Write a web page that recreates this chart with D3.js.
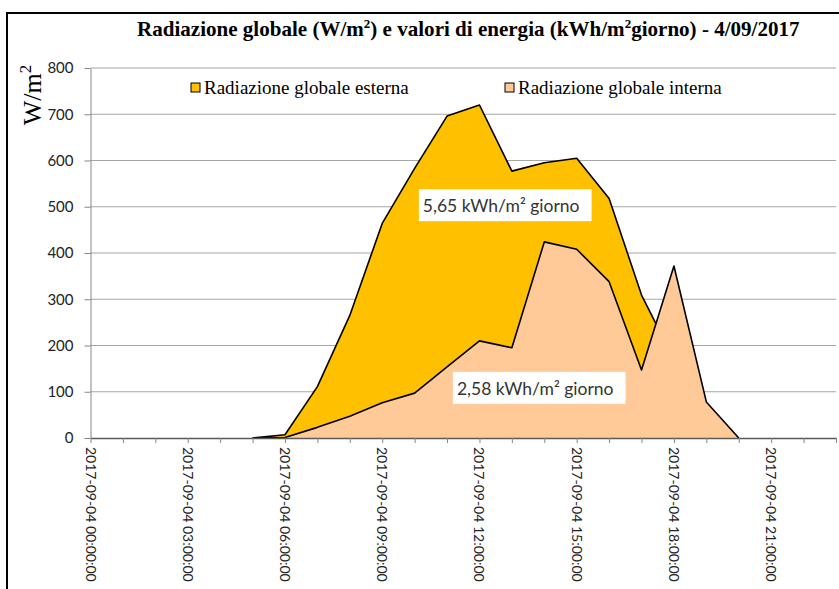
<!DOCTYPE html>
<html>
<head>
<meta charset="utf-8">
<script src="https://cdn.jsdelivr.net/npm/d3@7"></script>
<style>
  body { margin: 0; background: #fff; }
  svg { display: block; }
  .axis-title, .legend text, .chart-title { font-family: "Liberation Serif", "DejaVu Serif", serif; fill: #000; }
  .tick-lbl { font-family: Lato, "Open Sans", sans-serif; fill: #222; }
  .note { font-family: Lato, "Open Sans", sans-serif; fill: #333; }
</style>
</head>
<body>
<svg id="chart"></svg>
<script>
// hourly categories for 4/09/2017
const hours = ['00','01','02','03','04','05','06','07','08','09','10','11',
               '12','13','14','15','16','17','18','19','20','21','22','23'];
const esterna = [0, 0, 0, 0, 0, 0, 7, 111, 265, 464, 583, 696,
                 720, 577, 595, 605, 518, 309, 170, 40, 0, 0, 0, 0];
const interna = [0, 0, 0, 0, 0, 0, 1, 23, 47, 76, 97, 154,
                 210, 195, 424, 408, 338, 147, 372, 78, 0, 0, 0, 0];
const yTicks = [0, 100, 200, 300, 400, 500, 600, 700, 800];
const seriesNames = ['Radiazione globale esterna', 'Radiazione globale interna'];
const seriesColors = ['#FFC000', '#FFCA98'];
const notes = [
  {text: '5,65 kWh/m\u00b2 giorno', hour: 10.13, value: 538},
  {text: '2,58 kWh/m\u00b2 giorno', hour: 11.18, value: 143}
];

const width = 839, height = 589;
const margin = {top: 68, right: 3, bottom: 151, left: 90.5};

const svg = d3.select('#chart')
    .attr('width', width)
    .attr('height', height);

// outer frame
svg.append('rect')
    .attr('x', 7).attr('y', 13)
    .attr('width', width + 10).attr('height', height + 10)
    .attr('fill', 'none')
    .attr('stroke', '#000')
    .attr('stroke-width', 2);

const xScale = d3.scaleLinear()
    .domain([0, hours.length - 1])
    .range([margin.left, width - margin.right]);

const yScale = d3.scaleLinear()
    .domain([0, 800])
    .range([height - margin.bottom, margin.top]);

// gridlines
svg.append('g')
    .selectAll('line')
    .data(yTicks.filter(d => d > 0))
  .join('line')
    .attr('x1', margin.left).attr('x2', width - margin.right)
    .attr('y1', d => yScale(d)).attr('y2', d => yScale(d))
    .attr('stroke', '#a6a6a6')
    .attr('stroke-width', 1);

// y axis
const yAxis = d3.axisLeft(yScale)
    .tickValues(yTicks)
    .tickSize(6)
    .tickSizeOuter(0)
    .tickPadding(11);

const yAxisG = svg.append('g')
    .attr('transform', `translate(${margin.left},0)`)
    .call(yAxis);
yAxisG.select('.domain').attr('stroke', '#868686');
yAxisG.selectAll('.tick line').attr('stroke', '#868686');
yAxisG.selectAll('.tick text')
    .attr('class', 'tick-lbl')
    .attr('font-size', 15);

// areas
const area = d3.area()
    .x((d, i) => xScale(i))
    .y0(yScale(0))
    .y1(d => yScale(d));

const line = d3.line()
    .x((d, i) => xScale(i))
    .y(d => yScale(d));

// only stroke the part of each series that has data
const firstIdx = 5, lastIdx = 20;
[esterna, interna].forEach((vals, k) => {
  svg.append('path')
      .datum(vals)
      .attr('d', area)
      .attr('fill', seriesColors[k]);
  svg.append('path')
      .datum(vals.slice(firstIdx, lastIdx + 1))
      .attr('transform', `translate(${xScale(firstIdx) - xScale(0)},0)`)
      .attr('d', line)
      .attr('fill', 'none')
      .attr('stroke', '#000')
      .attr('stroke-width', 1.6)
      .attr('stroke-linejoin', 'round');
});

// x axis
const xAxis = d3.axisBottom(xScale)
    .tickValues(d3.range(hours.length + 1))
    .tickSize(5)
    .tickSizeOuter(0)
    .tickFormat('');

const xAxisG = svg.append('g')
    .attr('transform', `translate(0,${yScale(0)})`)
    .call(xAxis);
xAxisG.select('.domain').attr('stroke', '#595959').attr('stroke-width', 1.5);
xAxisG.selectAll('.tick line').attr('stroke', '#868686');

svg.append('g')
    .selectAll('text')
    .data(hours.map((h, i) => ({h, i})).filter(d => d.i % 3 === 0))
  .join('text')
    .attr('class', 'tick-lbl')
    .attr('font-size', 14)
    .attr('transform', d => `translate(${xScale(d.i) - 5},${yScale(0) + 9}) rotate(90)`)
    .text(d => `2017-09-04 ${d.h}:00:00`);

// energy notes
notes.forEach(n => {
  const g = svg.append('g')
      .attr('transform', `translate(${xScale(n.hour)},${yScale(n.value)})`);
  const t = g.append('text')
      .attr('class', 'note')
      .attr('x', 4).attr('y', 23)
      .attr('font-size', 17.5)
      .text(n.text);
  const bb = t.node().getBBox();
  g.insert('rect', 'text')
      .attr('x', 0).attr('y', 0)
      .attr('width', bb.width + 16).attr('height', 32)
      .attr('fill', '#fff');
});

// legend
const legend = svg.append('g').attr('class', 'legend');
const legendX = [191, 505];
seriesNames.forEach((name, k) => {
  legend.append('rect')
      .attr('x', legendX[k]).attr('y', 83)
      .attr('width', 9).attr('height', 9)
      .attr('fill', seriesColors[k])
      .attr('stroke', '#000')
      .attr('stroke-width', 1);
  legend.append('text')
      .attr('x', legendX[k] + 13).attr('y', 94)
      .attr('font-size', 19)
      .text(name);
});

// y axis title
const yt = svg.append('text')
    .attr('class', 'axis-title')
    .attr('transform', 'translate(41,95) rotate(-90)')
    .attr('text-anchor', 'middle')
    .attr('font-size', 26);
yt.append('tspan').text('W/m');
yt.append('tspan').attr('font-size', 17).attr('dy', -10).text('2');

// chart title (condensed to the reference width)
const title = svg.append('text')
    .attr('class', 'chart-title')
    .attr('font-size', 21)
    .attr('font-weight', 'bold');
title.append('tspan').text('Radiazione globale (W/m');
title.append('tspan').attr('font-size', 13).attr('dy', -8).text('2');
title.append('tspan').attr('dy', 8).text(') e valori di energia (kWh/m');
title.append('tspan').attr('font-size', 13).attr('dy', -8).text('2');
title.append('tspan').attr('dy', 8).text('giorno) - 4/09/2017');
const tw = title.node().getBBox().width;
title.attr('transform', `translate(137,36) scale(${663 / tw},1)`);
</script>
</body>
</html>
